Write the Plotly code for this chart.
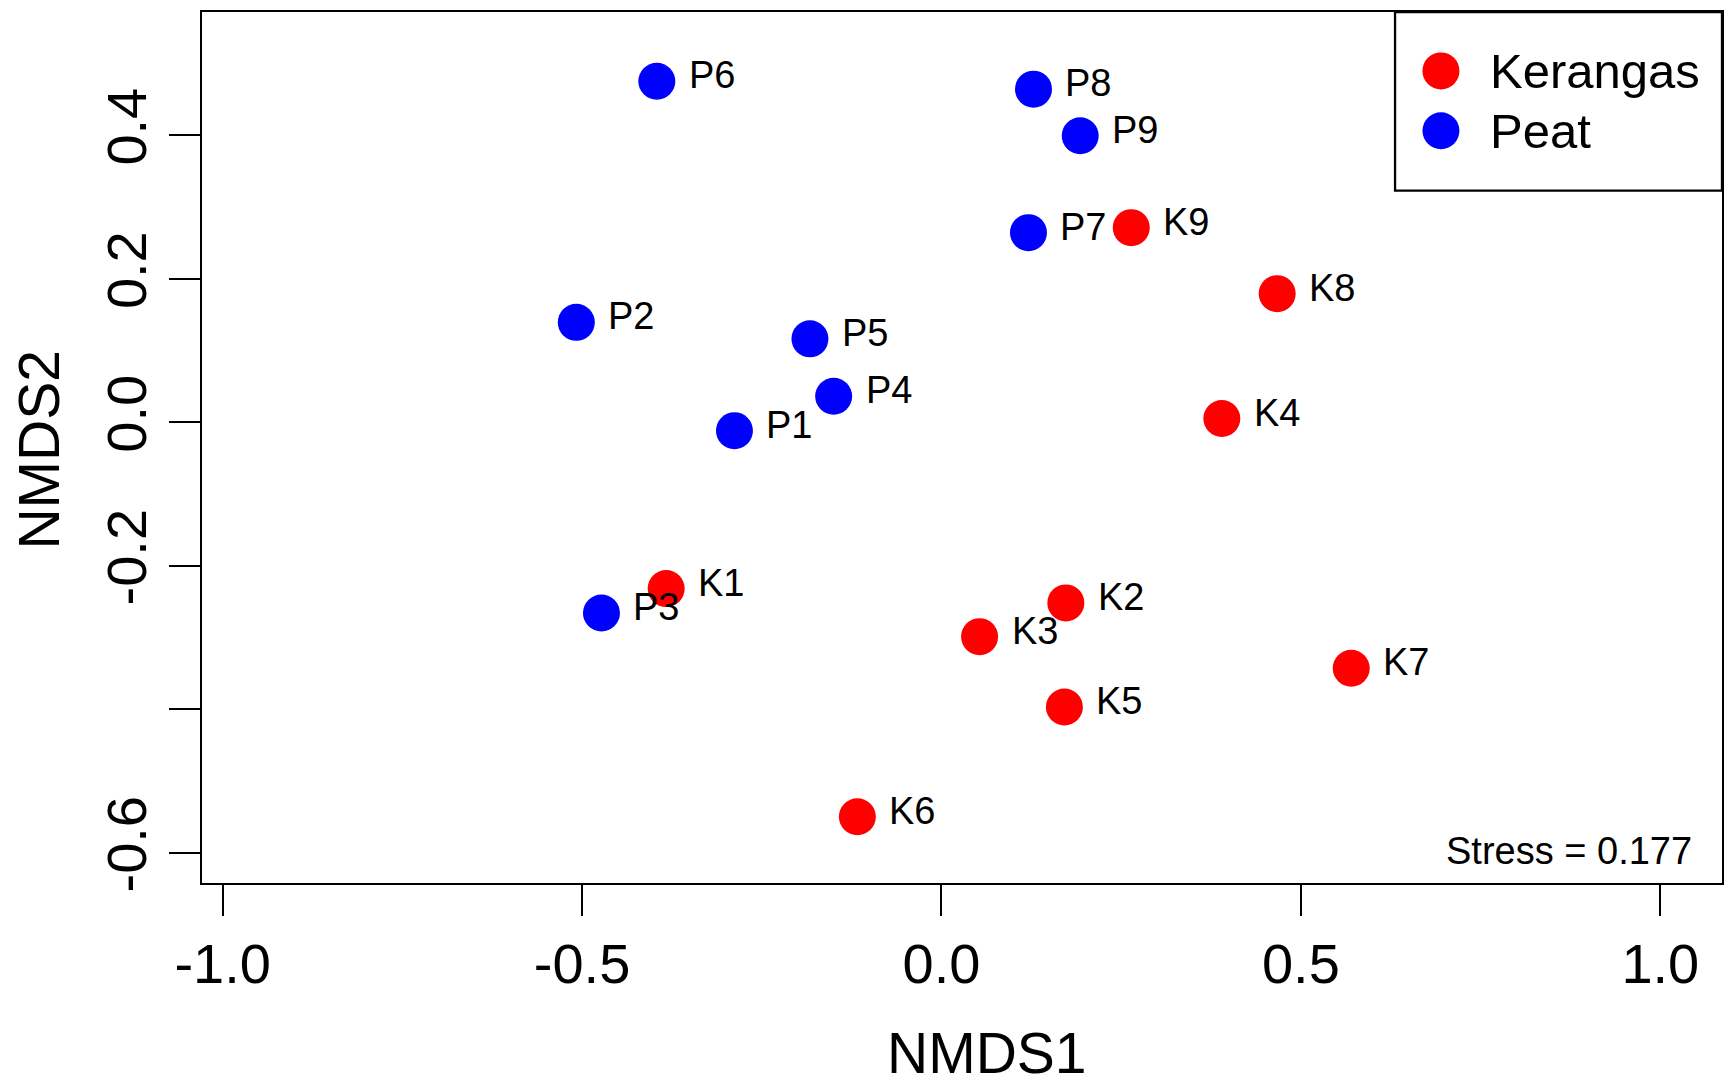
import plotly.graph_objects as go

# NMDS site scores
sites = ["P1", "P2", "P3", "P4", "P5", "P6", "P7", "P8", "P9",
         "K1", "K2", "K3", "K4", "K5", "K6", "K7", "K8", "K9"]
nmds1 = [-0.288, -0.508, -0.473, -0.150, -0.183, -0.396, 0.121, 0.128, 0.193,
         -0.383, 0.173, 0.053, 0.390, 0.171, -0.117, 0.570, 0.467, 0.264]
nmds2 = [-0.012, 0.139, -0.266, 0.036, 0.116, 0.475, 0.264, 0.464, 0.399,
         -0.232, -0.252, -0.299, 0.005, -0.397, -0.550, -0.343, 0.179, 0.271]
habitat = ["Peat"] * 9 + ["Kerangas"] * 9

groups = ["Kerangas", "Peat"]
group_colors = {"Kerangas": "#FF0000", "Peat": "#0000FF"}

x_ticks = [-1.0, -0.5, 0.0, 0.5, 1.0]
x_ticktext = ["-1.0", "-0.5", "0.0", "0.5", "1.0"]
y_ticks = [-0.6, -0.4, -0.2, 0.0, 0.2, 0.4]
y_ticktext = ["-0.6", "", "-0.2", "0.0", "0.2", "0.4"]

stress = 0.177

FONT = "Liberation Sans, Arial, sans-serif"

fig = go.Figure()

for g in groups:
    idx = [i for i, h in enumerate(habitat) if h == g]
    fig.add_trace(go.Scatter(
        x=[nmds1[i] for i in idx],
        y=[nmds2[i] for i in idx],
        mode="markers",
        name=g,
        marker=dict(size=37, color=group_colors[g], line=dict(width=0)),
        showlegend=False,
    ))

annotations = []
# site labels to the right of each point
for s, x, y in zip(sites, nmds1, nmds2):
    annotations.append(dict(
        x=x, y=y, xref="x", yref="y", text=s, showarrow=False,
        xanchor="left", yanchor="middle", xshift=30, yshift=6,
        font=dict(family=FONT, size=38, color="black"),
    ))

# axis titles
annotations.append(dict(
    x=0.5164, y=-0.195, xref="paper", yref="paper", text="NMDS1",
    showarrow=False, xanchor="center", yanchor="middle",
    font=dict(family=FONT, size=57, color="black"),
))
annotations.append(dict(
    x=-0.107, y=0.498, xref="paper", yref="paper", text="NMDS2",
    showarrow=False, xanchor="center", yanchor="middle", textangle=-90,
    font=dict(family=FONT, size=57, color="black"),
))

# stress value
annotations.append(dict(
    x=0.9815, y=0.037, xref="paper", yref="paper", text=f"Stress = {stress}",
    showarrow=False, xanchor="right", yanchor="middle",
    font=dict(family=FONT, size=38, color="black"),
))

# legend box in the top-right corner, drawn by hand so the dots match the plot
shapes = [dict(
    type="rect", xref="paper", yref="paper", x0=0.7849, x1=1.0, y0=0.795, y1=1.0,
    line=dict(color="black", width=2.3), fillcolor="white", layer="above",
)]
legend_y = [0.9324, 0.8637]
for g, ly in zip(groups, legend_y):
    shapes.append(dict(
        type="circle", xref="paper", yref="paper",
        xsizemode="pixel", ysizemode="pixel",
        xanchor=0.8151, yanchor=ly, x0=-18.5, x1=18.5, y0=-18.5, y1=18.5,
        fillcolor=group_colors[g], line=dict(width=0), layer="above",
    ))
    annotations.append(dict(
        x=0.846, y=ly, xref="paper", yref="paper", text=g, showarrow=False,
        xanchor="left", yanchor="middle",
        font=dict(family=FONT, size=49, color="black"),
    ))

axis_style = dict(
    showgrid=False, zeroline=False, showline=True, mirror=True,
    linecolor="black", linewidth=2.3, ticks="outside", ticklen=31,
    tickwidth=2.3, tickcolor="black",
    tickfont=dict(family=FONT, size=56, color="black"),
)

# the page body adds an 8px margin, so the figure is 8px smaller each way
fig.update_layout(
    width=1725, height=1077,
    margin=dict(l=194, r=11, t=2, b=202),
    paper_bgcolor="white", plot_bgcolor="white",
    font=dict(family=FONT, color="black"),
    xaxis=dict(range=[-1.0287, 1.0858], tickvals=x_ticks, ticktext=x_ticktext,
               **axis_style),
    yaxis=dict(range=[-0.6423, 0.5715], tickvals=y_ticks, ticktext=y_ticktext,
               tickangle=-90, **axis_style),
    annotations=annotations,
    shapes=shapes,
    showlegend=False,
)

fig.write_html("out.html")
